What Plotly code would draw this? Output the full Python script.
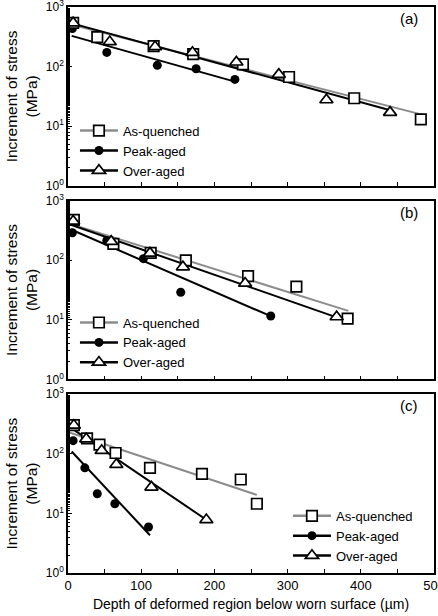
import plotly.graph_objects as go

# ---------------- data ----------------
# Panel (a)
a_aq_x = [7, 40, 117, 171, 239, 302, 391, 482]
a_aq_y = [541, 312, 220, 162, 109, 67, 29.5, 13]
a_pa_x = [6, 53, 122, 175, 228]
a_pa_y = [435, 173, 105, 92, 61]
a_oa_x = [7, 57, 119, 170, 230, 288, 353, 440]
a_oa_y = [540, 261, 215, 172, 119, 74, 27.7, 17]
a_aq_fit_x = [3, 485]
a_aq_fit_y = [514, 15.5]
a_pa_fit_x = [5, 228]
a_pa_fit_y = [328, 56]
a_oa_fit_x = [3, 444]
a_oa_fit_y = [541, 18]

# Panel (b)
b_aq_x = [8, 62, 113, 161, 246, 312, 382]
b_aq_y = [475, 188, 133, 99, 54, 36, 10.5]
b_pa_x = [6, 53, 103, 154, 277]
b_pa_y = [288, 214, 106, 29, 11.6]
b_oa_x = [7, 59, 112, 157, 242, 367]
b_oa_y = [451, 206, 131, 77, 41, 11.2]
b_aq_fit_x = [3, 383]
b_aq_fit_y = [407, 14.1]
b_pa_fit_x = [4, 277]
b_pa_fit_y = [327, 11.5]
b_oa_fit_x = [3, 368]
b_oa_fit_y = [396, 10.9]

# Panel (c)
c_aq_x = [8, 26, 43, 65, 112, 183, 236, 258]
c_aq_y = [303, 181, 142, 103, 58, 46, 37, 14.5]
c_pa_x = [7, 23, 40, 64, 110]
c_pa_y = [166, 58, 21.3, 14.5, 5.9]
c_oa_x = [8, 25, 46, 66, 114, 189]
c_oa_y = [300, 177, 113, 66, 27.5, 7.8]
c_aq_fit_x = [1, 258]
c_aq_fit_y = [229, 20.4]
c_pa_fit_x = [5, 112]
c_pa_fit_y = [109, 4.3]
c_oa_fit_x = [3, 194]
c_oa_fit_y = [277, 7.1]

series_names = ["As-quenched", "Peak-aged", "Over-aged"]
panel_labels = ["(a)", "(b)", "(c)"]
y_tickvals = [1, 10, 100, 1000]
y_ticktext = ["10<sup>0</sup>", "10<sup>1</sup>", "10<sup>2</sup>", "10<sup>3</sup>"]
x_tickvals = [0, 100, 200, 300, 400, 500]

panels = [
    (a_aq_x, a_aq_y, a_pa_x, a_pa_y, a_oa_x, a_oa_y,
     a_aq_fit_x, a_aq_fit_y, a_pa_fit_x, a_pa_fit_y, a_oa_fit_x, a_oa_fit_y),
    (b_aq_x, b_aq_y, b_pa_x, b_pa_y, b_oa_x, b_oa_y,
     b_aq_fit_x, b_aq_fit_y, b_pa_fit_x, b_pa_fit_y, b_oa_fit_x, b_oa_fit_y),
    (c_aq_x, c_aq_y, c_pa_x, c_pa_y, c_oa_x, c_oa_y,
     c_aq_fit_x, c_aq_fit_y, c_pa_fit_x, c_pa_fit_y, c_oa_fit_x, c_oa_fit_y),
]

FONT = "Arial, 'Liberation Sans', sans-serif"
GRAY = "#8c8c8c"
sq = dict(symbol="square", size=10.5, color="white", line=dict(color="black", width=1.7))
ci = dict(symbol="circle", size=9, color="black", line=dict(color="black", width=0))
tr = dict(symbol="triangle-up", size=11.5, color="white", line=dict(color="black", width=1.7))

fig = go.Figure()
domains = [[0.684, 1.0], [0.342, 0.658], [0.0, 0.316]]
legend_names = ["legend", "legend2", "legend3"]

for i, p in enumerate(panels):
    (aqx, aqy, pax, pay, oax, oay, afx, afy, pfx, pfy, ofx, ofy) = p
    xa = "x" if i == 0 else f"x{i+1}"
    ya = "y" if i == 0 else f"y{i+1}"
    lg = legend_names[i]
    fig.add_trace(go.Scatter(x=afx, y=afy, mode="lines", line=dict(color=GRAY, width=2),
                             xaxis=xa, yaxis=ya, showlegend=False))
    fig.add_trace(go.Scatter(x=pfx, y=pfy, mode="lines", line=dict(color="black", width=2),
                             xaxis=xa, yaxis=ya, showlegend=False))
    fig.add_trace(go.Scatter(x=ofx, y=ofy, mode="lines", line=dict(color="black", width=2),
                             xaxis=xa, yaxis=ya, showlegend=False))
    fig.add_trace(go.Scatter(x=pax, y=pay, mode="markers", marker=ci,
                             xaxis=xa, yaxis=ya, showlegend=False))
    fig.add_trace(go.Scatter(x=aqx, y=aqy, mode="markers", marker=sq,
                             xaxis=xa, yaxis=ya, showlegend=False))
    fig.add_trace(go.Scatter(x=oax, y=oay, mode="markers", marker=tr,
                             xaxis=xa, yaxis=ya, showlegend=False))
    for name, col, mk in zip(series_names, [GRAY, "black", "black"], [sq, ci, tr]):
        fig.add_trace(go.Scatter(x=[None], y=[None], mode="lines+markers", name=name,
                                 line=dict(color=col, width=2.5), marker=mk,
                                 xaxis=xa, yaxis=ya, legend=lg, showlegend=True))

    axis_common = dict(showline=True, linecolor="black", linewidth=1.5, mirror=True,
                       showgrid=False, zeroline=False, ticks="inside", ticklen=4,
                       tickcolor="black", automargin=False, ticklabeloverflow="allow")
    xaxis = dict(axis_common, range=[0, 500], tickvals=x_tickvals,
                 showticklabels=(i == 2),
                 tickfont=dict(family=FONT, size=13, color="black"),
                 minor=dict(dtick=50, ticks="inside", ticklen=4, tickcolor="black", showgrid=False),
                 anchor=ya)
    if i == 2:
        xaxis["title"] = dict(text="Depth of deformed region below worn surface (µm)",
                              font=dict(family=FONT, size=14, color="black"), standoff=7)
    else:
        xaxis["matches"] = "x3"
    yaxis = dict(axis_common, type="log", range=[0, 3], tickvals=y_tickvals, ticktext=y_ticktext,
                 domain=domains[i], anchor=xa,
                 tickfont=dict(family=FONT, size=12, color="black"),
                 minor=dict(ticks="inside", ticklen=2, tickcolor="black", showgrid=False),
                 title=dict(text="Increment of stress<br>(MPa)",
                            font=dict(family=FONT, size=15.5, color="black"), standoff=4))
    key = "" if i == 0 else str(i + 1)
    fig.update_layout(**{f"xaxis{key}": xaxis, f"yaxis{key}": yaxis})
    fig.add_annotation(text=panel_labels[i], x=0.962, y=domains[i][1] - 0.002,
                       xref="paper", yref="paper", xanchor="right", yanchor="top",
                       showarrow=False, font=dict(family=FONT, size=15, color="black"))

leg_common = dict(bgcolor="rgba(0,0,0,0)", font=dict(family=FONT, size=13, color="black"),
                  xanchor="left", yanchor="top", tracegroupgap=0, itemwidth=38)
fig.update_layout(
    legend=dict(leg_common, x=0.019, y=0.808),
    legend2=dict(leg_common, x=0.019, y=0.469),
    legend3=dict(leg_common, x=0.601, y=0.1275),
)

fig.update_layout(width=438, height=616, margin=dict(l=68, r=4, t=7, b=43, autoexpand=False),
                  paper_bgcolor="white", plot_bgcolor="white",
                  font=dict(family=FONT, color="black"))

fig.write_html("out.html", config={"displayModeBar": False},
               post_script="document.body.style.margin='0';")
